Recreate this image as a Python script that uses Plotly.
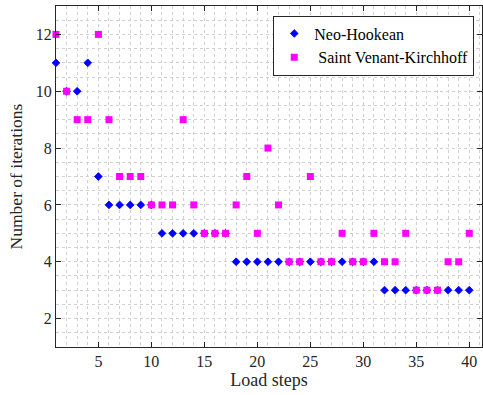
import plotly.graph_objects as go

load_steps = list(range(1, 41))
neo_hookean = [11, 10, 10, 11, 7, 6, 6, 6, 6, 6,
               5, 5, 5, 5, 5, 5, 5, 4, 4, 4,
               4, 4, 4, 4, 4, 4, 4, 4, 4, 4,
               4, 3, 3, 3, 3, 3, 3, 3, 3, 3]
saint_venant = [12, 10, 9, 9, 12, 9, 7, 7, 7, 6,
                6, 6, 9, 6, 5, 5, 5, 6, 7, 5,
                8, 6, 4, 4, 7, 4, 4, 5, 4, 4,
                5, 4, 4, 5, 3, 3, 3, 4, 4, 5]
x_ticks = [5, 10, 15, 20, 25, 30, 35, 40]
y_ticks = [2, 4, 6, 8, 10, 12]

FONT = "'Liberation Serif', 'Times New Roman', Times, serif"

fig = go.Figure()
fig.add_trace(go.Scatter(
    x=load_steps, y=neo_hookean, mode="markers", name="Neo-Hookean",
    cliponaxis=False,
    marker=dict(symbol="diamond", size=6, color="#0000ff",
                line=dict(width=0.8, color="#0000ff")),
))
fig.add_trace(go.Scatter(
    x=load_steps, y=saint_venant, mode="markers", name=" Saint Venant-Kirchhoff",
    cliponaxis=False,
    marker=dict(symbol="square", size=7, color="#ff00ff",
                line=dict(width=0)),
))

axis_common = dict(
    showline=True, linecolor="#262626", linewidth=1.2, mirror="ticks",
    ticks="inside", ticklen=5, tickcolor="#262626", tickwidth=1,
    tickfont=dict(family=FONT, size=16, color="#262626"),
    showgrid=True, gridcolor="#d0d0d0", griddash="dot", gridwidth=1,
    zeroline=False,
)

fig.update_layout(
    width=483, height=395,
    margin=dict(l=56, r=1, t=6, b=48),
    plot_bgcolor="white", paper_bgcolor="white",
    font=dict(family=FONT, color="#262626"),
    xaxis=dict(
        range=[1, 41.2], tickvals=x_ticks,
        title=dict(text="Load steps", font=dict(family=FONT, size=18, color="#262626"), standoff=4),
        minor=dict(dtick=1, tick0=0, showgrid=True, gridcolor="#d0d0d0", griddash="dot", gridwidth=1),
        **axis_common,
    ),
    yaxis=dict(
        range=[1, 13], tickvals=y_ticks,
        title=dict(text="Number of iterations", font=dict(family=FONT, size=17.5, color="#262626"), standoff=8),
        minor=dict(dtick=0.5, tick0=0, showgrid=True, gridcolor="#d0d0d0", griddash="dot", gridwidth=1),
        **axis_common,
    ),
    legend=dict(
        x=0.51, y=0.972, xanchor="left", yanchor="top",
        bgcolor="white", bordercolor="#262626", borderwidth=1,
        font=dict(family=FONT, size=16, color="#000000"),
        tracegroupgap=0, itemwidth=30,
    ),
    showlegend=True,
)

fig.write_html("out.html")
